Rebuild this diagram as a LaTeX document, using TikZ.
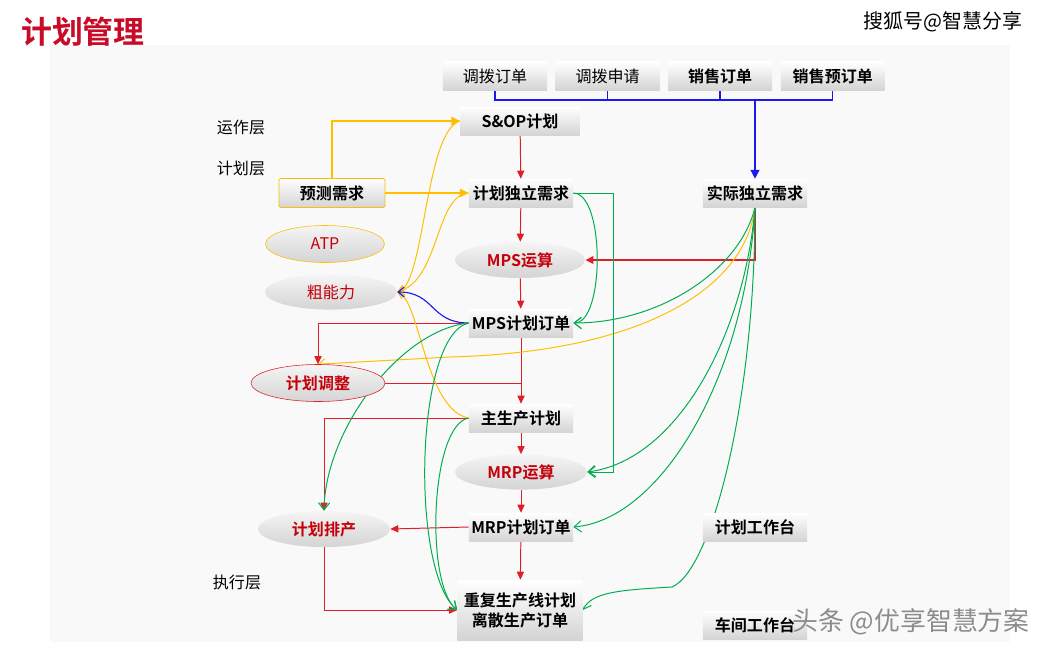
\documentclass[tikz,border=0pt]{standalone}
\usepackage{fontspec}
\setmainfont{Noto Sans CJK SC}[BoldFont={Noto Sans CJK SC Bold}]
\usetikzlibrary{positioning,arrows.meta,shapes.geometric}
\definecolor{linered}{RGB}{222,30,40}
\definecolor{textred}{RGB}{196,0,10}
\definecolor{titlered}{RGB}{200,12,40}
\definecolor{lineyel}{RGB}{255,190,0}
\definecolor{linegreen}{RGB}{0,172,80}
\definecolor{lineblue}{RGB}{25,25,240}
\definecolor{boxgray}{RGB}{212,212,212}
\definecolor{panelgray}{RGB}{249,249,249}
\pgfdeclarelayer{panel}
\pgfdeclarelayer{wires}
\pgfsetlayers{panel,wires,main}
\tikzset{
  >=Stealth,
  txt/.style={font=\fontsize{11.4}{14.2}\selectfont},
  box/.style={rectangle, txt, inner sep=1pt, minimum width=2.6cm, minimum height=0.7cm,
    top color=white, bottom color=boxgray, align=center},
  boldbox/.style={box, font=\fontsize{11.4}{14.2}\selectfont\bfseries},
  oval/.style={ellipse, inner sep=0pt, minimum width=3.3cm, minimum height=0.88cm,
    top color=white!96!black, bottom color=boxgray, text=textred, txt},
  redarr/.style={draw=linered, line width=0.7pt, -{Triangle[length=0.2cm,width=0.18cm]}},
  yelarr/.style={draw=lineyel, line width=0.7pt, -{Straight Barb[length=0.15cm,width=0.25cm]}},
  greenarr/.style={draw=linegreen, line width=0.7pt, -{Straight Barb[length=0.18cm,width=0.28cm]}},
}
\begin{document}
\begin{tikzpicture}[x=0.025cm, y=-0.025cm, node distance=0.2cm]
\useasboundingbox (0,0) rectangle (1053,652);
\begin{pgfonlayer}{panel}
\fill[panelgray] (50,45) rectangle (1010,642);
\end{pgfonlayer}

% title and marks
\node[text=titlered, font=\fontsize{22}{24}\selectfont\bfseries] (title) at (83,32) {计划管理};
\node[font=\fontsize{14.2}{16}\selectfont] (mark1) at (943,22) {搜狐号@智慧分享};

% layer labels
\node[txt] (lyop) at (241,128) {运作层};
\node[txt] (lyplan) at (241,168) {计划层};
\node[txt] (lyexe) at (237,582) {执行层};

% source orders
\node[box] (tb1) at (495,76) {调拨订单};
\node[box, right=of tb1] (tb2) {调拨申请};
\node[boldbox, right=of tb2] (so) {销售订单};
\node[boldbox, right=of so] (spo) {销售预订单};

% main column
\node[boldbox, minimum width=2.975cm] (sop) at (520,121) {S\&OP计划};
\node[boldbox] (pid) at (521,193) {计划独立需求};
\node[oval, font=\fontsize{11.4}{14.2}\selectfont\bfseries, minimum width=3.25cm, minimum height=0.9cm] (mpsc) at (520,260) {MPS运算};
\node[boldbox] (mpso) at (521,323) {MPS计划订单};
\node[boldbox] (mps) at (521,418) {主生产计划};
\node[oval, font=\fontsize{11.4}{14.2}\selectfont\bfseries] (mrpc) at (521,472) {MRP运算};
\node[boldbox] (mrpo) at (521,527) {MRP计划订单};
\node[boldbox, minimum width=3.125cm, minimum height=1.5cm] (exe) at (520,610) {重复生产线计划\\离散生产订单};

% right column
\node[boldbox] (aid) at (755,193) {实际独立需求};
\node[boldbox] (pwb) at (755,527) {计划工作台};
\node[boldbox] (swb) at (755,625) {车间工作台};

% left column
\node[boldbox, draw=lineyel, rounded corners=1pt, minimum width=2.65cm, minimum height=0.725cm] (fc) at (332,193) {预测需求};
\node[oval, draw=lineyel, minimum width=2.975cm, minimum height=0.925cm] (atp) at (325,244) {ATP};
\node[oval] (rcc) at (331,292) {粗能力};
\node[oval, draw=linered, font=\fontsize{11.4}{14.2}\selectfont\bfseries, minimum width=3.35cm, minimum height=0.925cm] (adj) at (318,383) {计划调整};
\node[oval, font=\fontsize{11.4}{14.2}\selectfont\bfseries, minimum height=0.9cm] (sch) at (324,529) {计划排产};

\node[text=black!45, font=\fontsize{18.4}{20}\selectfont] (mark2) at (911,622) {头条 @优享智慧方案};

\begin{pgfonlayer}{wires}
% orders to actual demand
\coordinate (bus) at (755,100);
\draw[lineblue, line width=1pt] (tb1.south) |- (bus);
\draw[lineblue, line width=1pt] (tb2.south) |- (bus);
\draw[lineblue, line width=1pt] (so.south) |- (bus);
\draw[lineblue, line width=1pt] (spo.south) |- (bus);
\draw[lineblue, line width=1pt, -{Triangle[length=0.22cm,width=0.22cm]}] (bus) -- (aid.north);

% red flow
\draw[redarr] (sop) -- (pid);
\draw[redarr] (pid) -- (mpsc);
\draw[redarr] (mpsc) -- (mpso);
\draw[redarr] (mpso) -- (mps);
\draw[redarr] (mps) -- (mrpc);
\draw[redarr] (mrpc) -- (mrpo);
\draw[redarr] (mrpo) -- (exe);
\draw[redarr, line width=2pt] (aid.south) |- (mpsc.east);
\draw[redarr] (mpso.west) -| (adj.north);
\draw[draw=linered, line width=0.7pt] (adj.east) -- (adj.east -| mps.north);
\draw[redarr] (mps.west) -| (sch.north);
\draw[redarr] (mrpo.west) -- (sch.east);
\draw[redarr] (sch.south) |- (exe.west);

% yellow
\draw[draw=lineyel, line width=1.4pt, -{Triangle[length=0.22cm,width=0.2cm]}] (fc.north) |- (sop.west);
\draw[draw=lineyel, line width=1.4pt, -{Triangle[length=0.22cm,width=0.2cm]}] (fc.east) -- (pid.west);
\draw[yelarr] (sop.west) .. controls (425,130) and (425,285) .. (rcc.east);
\draw[yelarr] (pid.west) .. controls (435,195) and (440,280) .. (rcc.east);
\draw[yelarr] (mps.west) .. controls (425,410) and (420,300) .. (rcc.east);
\draw[yelarr] (aid.south) .. controls (745,290) and (640,352) .. (450,357) -- (adj.north);
\draw[draw=lineblue, line width=0.8pt, -{Straight Barb[length=0.15cm,width=0.25cm]}] (mpso.west) .. controls (430,323) and (435,292) .. (rcc.east);

% green
\draw[greenarr] (pid.east) .. controls (605,193) and (605,323) .. (mpso.east);
\draw[greenarr] (pid.east) -- ++(40,0) |- (mrpc.east);
\draw[greenarr] (aid.south) .. controls (740,270) and (660,323) .. (mpso.east);
\draw[greenarr] (aid.south) .. controls (745,330) and (680,460) .. (mrpc.east);
\draw[greenarr] (aid.south) .. controls (745,380) and (660,520) .. (mrpo.east);
\draw[greenarr] (aid.south) .. controls (755,400) and (712,570) .. (672,587) .. controls (620,590) and (592,592) .. (exe.east);
\draw[greenarr] (mpso.west) .. controls (400,330) and (325,430) .. (sch.north);
\draw[greenarr] (mpso.west) .. controls (415,335) and (410,570) .. (exe.west);
\draw[greenarr] (mps.west) .. controls (430,425) and (425,585) .. (exe.west);
\end{pgfonlayer}
\end{tikzpicture}
\end{document}
